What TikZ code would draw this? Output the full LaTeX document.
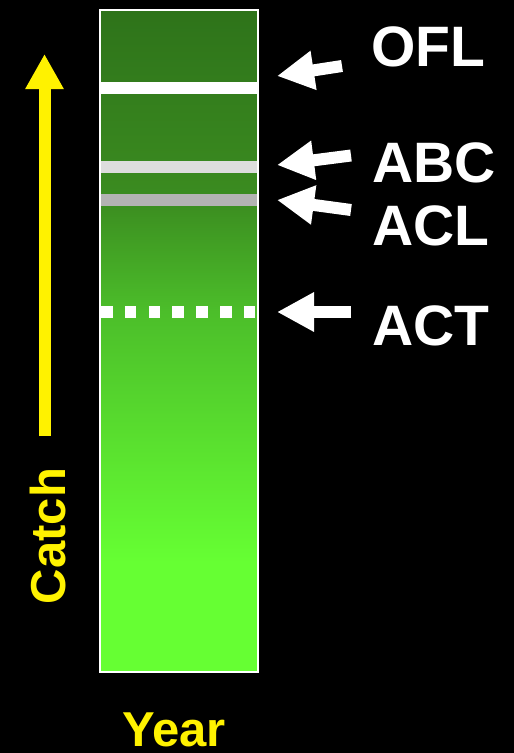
\documentclass[tikz,border=0pt]{standalone}
\usepackage{fontspec}
\setmainfont{Liberation Sans}
\usetikzlibrary{arrows.meta}
\definecolor{barlow}{HTML}{66FF33}
\definecolor{barmidlow}{HTML}{4CBE2A}
\definecolor{barmid}{HTML}{3B8C20}
\definecolor{bartop}{HTML}{2E731A}
\definecolor{abcgray}{HTML}{DDDDDD}
\definecolor{aclgray}{HTML}{B3B3B3}
% green bar: dark at the top, bright over the lowest sixth
% (the filled path is mapped onto the 25bp--75bp band of the shading)
\pgfdeclareverticalshading{catchbar}{100bp}{%
  color(0bp)=(barlow); color(25bp)=(barlow); color(33.3bp)=(barlow);
  color(52.2bp)=(barmidlow); color(60.65bp)=(barmid);
  color(75bp)=(bartop); color(100bp)=(bartop)}
\tikzset{
  label/.style={text=white, font=\fontsize{57}{60}\selectfont\bfseries, inner sep=0pt, anchor=base west},
  axislabel/.style={text=yellow, font=\fontsize{49}{52}\selectfont\bfseries, inner sep=0pt},
  pointer/.style={draw=white, line width=12pt, -{Triangle[length=37pt,width=37pt]}},
  band/.style={line width=12pt},
}
\begin{document}
\begin{tikzpicture}[x=1pt,y=-1pt]
  \fill[black] (0,0) rectangle (514,753);
  \useasboundingbox (0,0) rectangle (514,753);

  % catch bar
  \shade[shading=catchbar] (100,10) rectangle (258,672);
  \draw[white, line width=1.5pt] (100,10) rectangle (258,672);

  % reference lines across the bar
  \draw[band, white]    (100,88)  -- (258,88);
  \draw[band, abcgray]  (100.8,166.5) -- (257.2,166.5);
  \draw[band, aclgray]  (100.8,200) -- (257.2,200);
  \draw[band, white, dash pattern=on 11.5pt off 12.3pt] (101,312) -- (257,312);

  % labels
  \node[label] (ofl) at (371,66)  {OFL};
  \node[label] (abc) at (372,182) {ABC};
  \node[label] (acl) at (372,245) {ACL};
  \node[label] (act) at (372,345) {ACT};

  % arrow tips at the bar, tails near the labels
  \coordinate (oflt) at (342,66);   \coordinate (oflh) at (277,76);
  \coordinate (abct) at (351,155.5);\coordinate (abch) at (277,165);
  \coordinate (aclt) at (351,210);  \coordinate (aclh) at (277,200);
  \coordinate (actt) at (351,312);  \coordinate (acth) at (277,312);
  \draw[pointer] (oflt) -- (oflh);
  \draw[pointer] (abct) -- (abch);
  \draw[pointer] (aclt) -- (aclh);
  \draw[pointer] (actt) -- (acth);

  % catch axis
  \coordinate (cbase) at (44.5,436);
  \coordinate (ctip)  at (44.5,54);
  \draw[yellow, line width=12pt, -{Triangle[length=35pt,width=36pt]}] (cbase) -- (ctip);
  \node[axislabel, rotate=90, anchor=base] (catch) at (65,536) {Catch};
  \node[axislabel, anchor=base] (year) at (174,746) {Year};
\end{tikzpicture}
\end{document}
